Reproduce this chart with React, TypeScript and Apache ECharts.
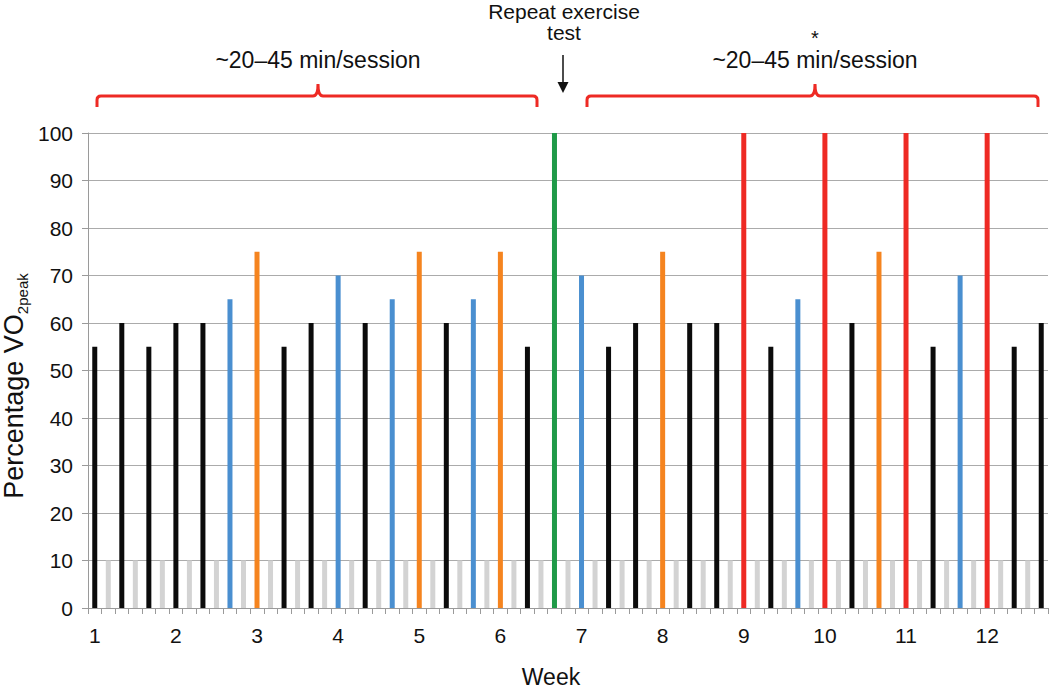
import React, { useEffect, useRef } from "react";
import * as echarts from "echarts";

// Session intensities (% VO2peak), in chronological order (3 sessions / week)
const sessionValues = [
  55, 60, 55, 60, 60, 65, 75, 55, 60, 70, 60, 65,
  75, 60, 65, 75, 55, 100, 70, 55, 60, 75, 60, 60,
  100, 55, 65, 100, 60, 75, 100, 55, 70, 100, 55, 60,
];
// Session type: E easy (black), M moderate (blue), T tempo (orange), X exercise test (green), H high/interval (red)
const sessionTypes = [
  "E", "E", "E", "E", "E", "M", "T", "E", "E", "M", "E", "M",
  "T", "E", "M", "T", "E", "X", "M", "E", "E", "T", "E", "E",
  "H", "E", "M", "H", "E", "T", "H", "E", "M", "H", "E", "E",
];
// Rest-day marker value shown between sessions
const restValue = 10;
const weekLabels = ["1", "2", "3", "4", "5", "6", "7", "8", "9", "10", "11", "12"];
const yTicks = [0, 10, 20, 30, 40, 50, 60, 70, 80, 90, 100];

const typeColors: Record<string, string> = {
  E: "#0b0b0b",
  M: "#4a8fd0",
  T: "#f5841f",
  X: "#1f9a48",
  H: "#ee2a24",
};
const restColor = "#d3d3d3";

const FONT = "'Liberation Sans', Arial, Helvetica, sans-serif";

export default function App() {
  const ref = useRef<HTMLDivElement>(null);

  useEffect(() => {
    if (!ref.current) return;
    const chart = echarts.init(ref.current, undefined, { renderer: "svg" });

    // Build slots: session, rest, session, rest ... (last session has no trailing rest)
    const categories: string[] = [];
    const data: any[] = [];
    sessionValues.forEach((v, i) => {
      categories.push("s" + i);
      data.push({ value: v, itemStyle: { color: typeColors[sessionTypes[i]] } });
      if (i < sessionValues.length - 1) {
        categories.push("r" + i);
        data.push({ value: restValue, itemStyle: { color: restColor } });
      }
    });

    const leftBrace =
      "M97,107 L97,100 Q97,96 101,96 L313,96 Q318,96 318,84 Q318,96 323,96 L533,96 Q537,96 537,100 L537,107";
    const rightBrace =
      "M587,107 L587,100 Q587,96 591,96 L810,96 Q815,96 815,84 Q815,96 820,96 L1034,96 Q1038,96 1038,100 L1038,107";
    echarts.graphic.registerShape("braceLeft", echarts.graphic.extendPath(leftBrace, {}) as any);
    echarts.graphic.registerShape("braceRight", echarts.graphic.extendPath(rightBrace, {}) as any);

    const txt = (text: string, x: number, y: number, size: number) => ({
      type: "text",
      x,
      y,
      style: {
        text,
        fontSize: size,
        fontFamily: FONT,
        fill: "#111",
        align: "center",
        verticalAlign: "middle",
      },
    });

    chart.setOption({
      animation: false,
      backgroundColor: "#ffffff",
      grid: { left: 88, right: 2, top: 133, bottom: 84, containLabel: false },
      xAxis: {
        type: "category",
        data: categories,
        boundaryGap: true,
        axisLine: { show: true, lineStyle: { color: "#9a9a9a", width: 1 } },
        axisTick: { show: true, interval: 0, length: 6, lineStyle: { color: "#9a9a9a" } },
        axisLabel: {
          interval: 0,
          margin: 17,
          fontSize: 21,
          fontFamily: FONT,
          color: "#111",
          formatter: (_v: string, idx: number) =>
            idx % 6 === 0 ? weekLabels[idx / 6] ?? "" : "",
        },
        splitLine: { show: false },
      },
      yAxis: {
        type: "value",
        min: yTicks[0],
        max: yTicks[yTicks.length - 1],
        interval: 10,
        axisLine: { show: true, lineStyle: { color: "#9a9a9a", width: 1 } },
        axisTick: { show: true, length: 6, lineStyle: { color: "#9a9a9a" } },
        axisLabel: { margin: 15, fontSize: 21, fontFamily: FONT, color: "#111" },
        splitLine: { show: true, lineStyle: { color: "#ababab", width: 1 } },
      },
      series: [
        {
          type: "bar",
          data,
          barWidth: 5,
          silent: true,
        },
      ],
      graphic: [
        { type: "braceLeft", style: { stroke: "#ee2a24", lineWidth: 3, fill: "none" } },
        { type: "braceRight", style: { stroke: "#ee2a24", lineWidth: 3, fill: "none" } },
        txt("Repeat exercise", 564, 11, 21),
        txt("test", 564, 32, 21),
        txt("~20\u201345 min/session", 318, 60, 23),
        txt("*", 815, 38, 20),
        txt("~20\u201345 min/session", 815, 60, 23),
        {
          type: "line",
          shape: { x1: 563, y1: 55, x2: 563, y2: 84 },
          style: { stroke: "#111", lineWidth: 1.5 },
        },
        {
          type: "polygon",
          shape: { points: [[557.5, 82], [568.5, 82], [563, 93]] },
          style: { fill: "#111" },
        },
        txt("Week", 551, 677, 23),
        {
          type: "text",
          x: 14,
          y: 386,
          rotation: Math.PI / 2,
          style: {
            text: "{a|Percentage VO}{b|2peak}",
            align: "center",
            verticalAlign: "middle",
            fill: "#111",
            rich: {
              a: { fontSize: 27, lineHeight: 32, fontFamily: FONT, fill: "#111" },
              b: { fontSize: 15, lineHeight: 12, fontFamily: FONT, fill: "#111", verticalAlign: "bottom" },
            },
          },
        },
      ],
    });

    return () => chart.dispose();
  }, []);

  return (
    <div
      ref={ref}
      style={{ position: "absolute", left: 0, top: 0, width: 1050, height: 692, background: "#fff" }}
    />
  );
}
